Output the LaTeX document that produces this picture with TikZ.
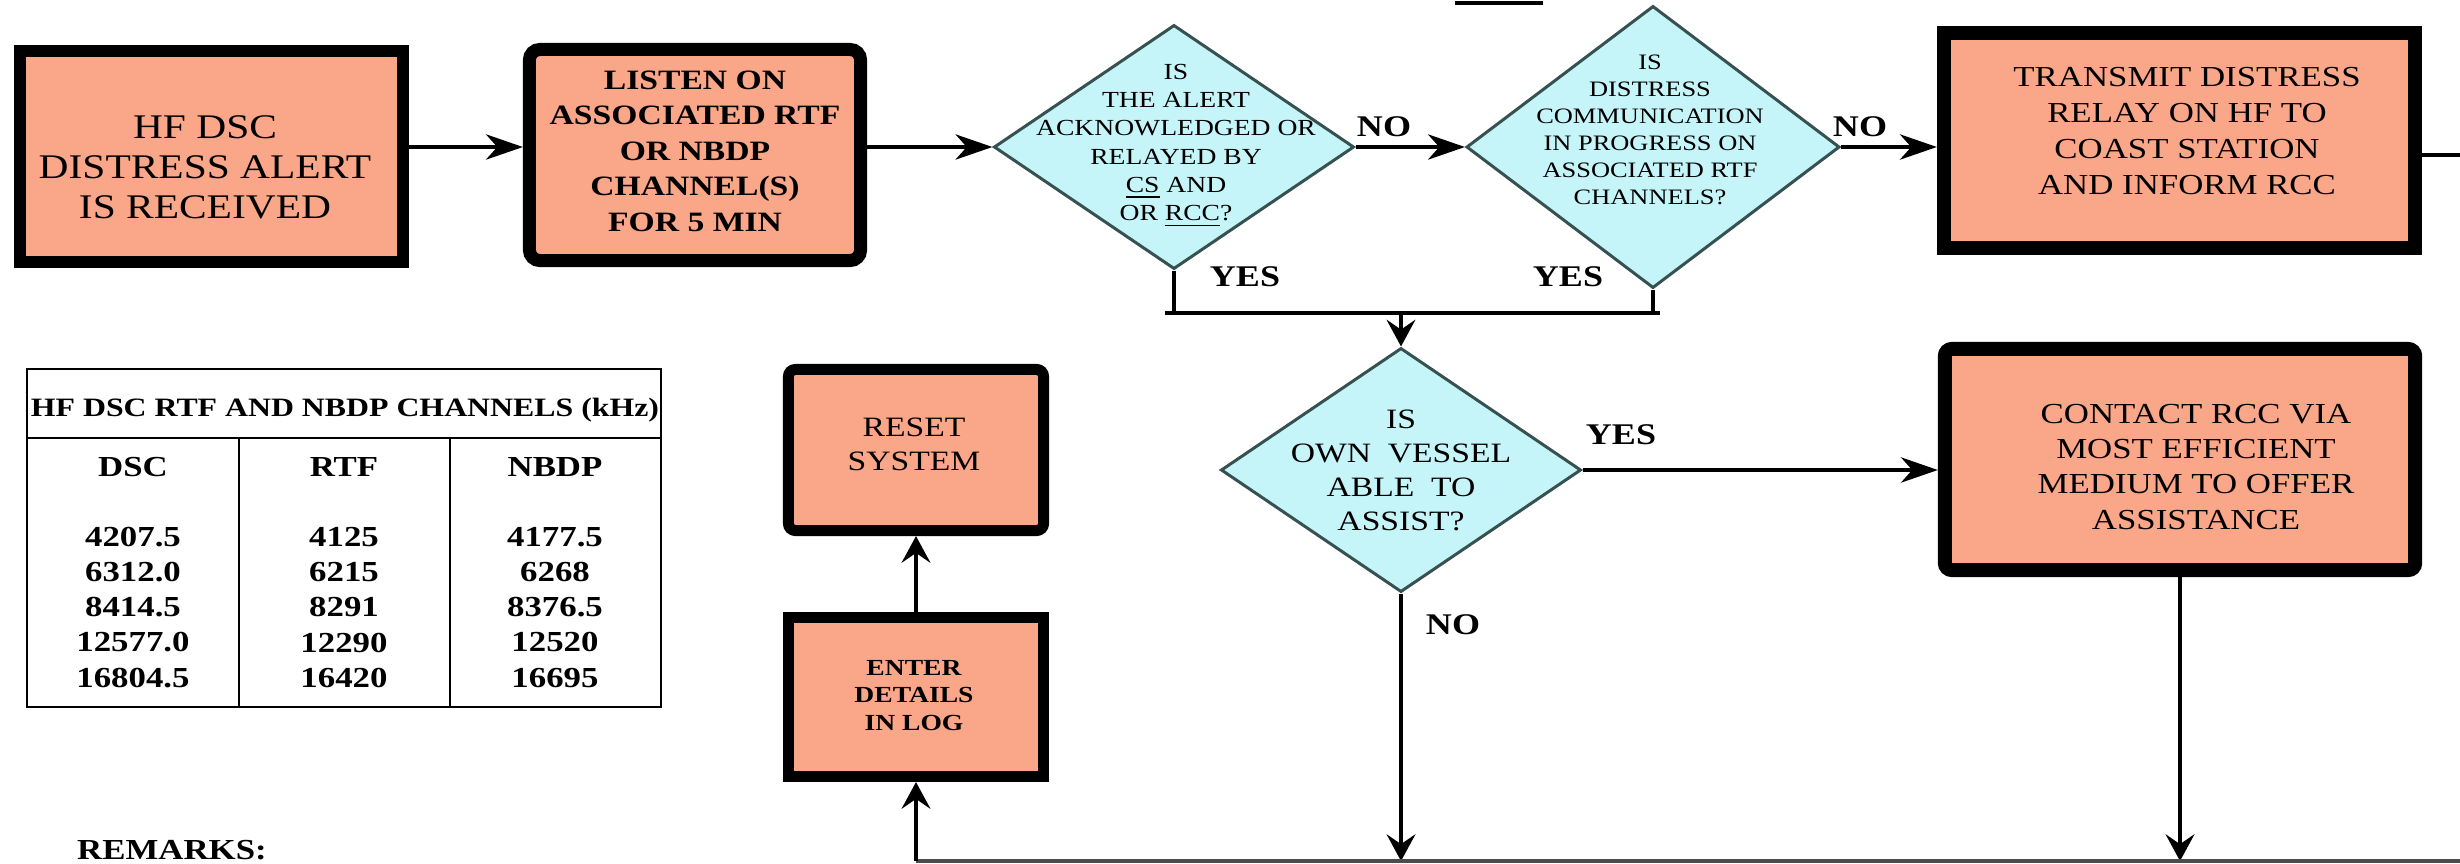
\documentclass[tikz,border=0pt]{standalone}
\usepackage{fontspec}
\setmainfont{Liberation Serif}[FakeStretch=1.2]
\usetikzlibrary{shapes.geometric,arrows.meta}
\definecolor{boxfill}{RGB}{250,166,136}
\definecolor{dfill}{RGB}{198,245,249}
\definecolor{dline}{RGB}{55,80,80}
\newcommand{\fsz}[2]{\fontsize{#1}{#2}\selectfont}
\begin{document}
\begin{tikzpicture}[x=0.01cm,y=-0.01cm,
  proc/.style={draw=black, fill=boxfill, inner sep=0pt},
  dec/.style={diamond, draw=dline, fill=dfill, line width=0.85pt, inner sep=0pt},
  txt/.style={inner sep=0pt, align=center, text=black},
  conn/.style={line width=0.9pt, draw=black},
  harr/.style={conn, -{Stealth[length=10.5pt,width=7.2pt,inset=3.2pt]}},
  varr/.style={conn, -{Stealth[length=7.6pt,width=8.2pt,inset=2.8pt]}},
  lab/.style={inner sep=0pt, font=\bfseries\fsz{8.54pt}{10pt}},
  tcell/.style={inner sep=0pt, align=center, font=\bfseries\fsz{8.25pt}{9.96pt}},
  tline/.style={line width=0.8pt, draw=black}
]
\useasboundingbox (0,0) rectangle (2460,863);
\fill[white] (0,0) rectangle (2460,863);

% fragment of cut-off title underline
\draw[line width=0.9pt] (1455,3) -- (1543,3);

% boxes
\node[proc, line width=0.1cm, minimum width=3.85cm, minimum height=2.13cm] (b1) at (211.5,156.5) {};
\draw[line width=0.03cm] ([shift={(11,11)}]b1.north west) rectangle ([shift={(-11,-11)}]b1.south east);
\node[txt, font=\fsz{9.82pt}{11.38pt}] (t1) at (205,167) {HF DSC\\DISTRESS ALERT\\IS RECEIVED};

\node[proc, line width=0.13cm, minimum width=3.31cm, minimum height=2.11cm, rounded corners=3pt] (b2) at (695,155) {};
\node[txt, font=\bfseries\fsz{7.97pt}{10.1pt}] (t2) at (695,151) {LISTEN ON\\ASSOCIATED RTF\\OR NBDP\\CHANNEL(S)\\FOR 5 MIN};

\node[proc, line width=0.14cm, minimum width=4.71cm, minimum height=2.15cm] (b3) at (2179.5,140.5) {};
\node[txt, font=\fsz{8.25pt}{10.24pt}] (t3) at (2187,131.5) {TRANSMIT DISTRESS\\RELAY ON HF TO\\COAST STATION\\AND INFORM RCC};

\node[proc, line width=0.14cm, minimum width=4.70cm, minimum height=2.21cm, rounded corners=2pt] (b4) at (2180,459.5) {};
\node[txt, font=\fsz{8.25pt}{9.96pt}] (t4) at (2196,467) {CONTACT RCC VIA\\MOST EFFICIENT\\MEDIUM TO OFFER\\ASSISTANCE};

\node[proc, line width=0.11cm, minimum width=2.55cm, minimum height=1.61cm, rounded corners=2pt] (b5) at (916,450) {};
\node[txt, font=\fsz{7.97pt}{9.67pt}] (t5) at (914,444) {RESET\\SYSTEM};

\node[proc, line width=0.11cm, minimum width=2.55cm, minimum height=1.59cm] (b6) at (916,697) {};
\node[txt, font=\bfseries\fsz{6.54pt}{7.82pt}] (t6) at (914,695.5) {ENTER\\DETAILS\\IN LOG};

% decisions
\node[dec, minimum width=3.6cm, minimum height=2.44cm] (d1) at (1174,147) {};
\node[txt, font=\fsz{6.54pt}{7.97pt}] (q1) at (1176,146) {IS\\THE ALERT\\ACKNOWLEDGED OR\\RELAYED BY\\\underline{CS} AND\\OR \underline{RCC}?};
\node[dec, minimum width=3.73cm, minimum height=2.82cm] (d2) at (1653,147) {};
\node[txt, font=\fsz{6.26pt}{7.68pt}] (q2) at (1650,130) {IS\\DISTRESS\\COMMUNICATION\\IN PROGRESS ON\\ASSOCIATED RTF\\CHANNELS?};
\node[dec, minimum width=3.6cm, minimum height=2.44cm] (d3) at (1401,470) {};
\node[txt, font=\fsz{7.97pt}{9.67pt}] (q3) at (1401,470) {IS\\OWN\ \ VESSEL\\ABLE\ \ TO\\ASSIST?};

% helper coordinates
\coordinate (r1) at (0,147);
\coordinate (r3) at (0,155);
\coordinate (edge) at (2460,155);
\coordinate (ym) at (0,313);
\coordinate (ml) at (1165,313);
\coordinate (mr) at (1660,313);
\coordinate (bl) at (916,861);
\coordinate (br) at (2460,861);

% connectors
\draw[harr] (b1.east |- r1) -- (b2.west |- r1);
\draw[harr] (b2.east |- r1) -- (d1.west);
\draw[harr] (d1.east) -- (d2.west);
\draw[harr] (d2.east) -- (b3.west |- d2.east);
\draw[conn] (b3.east |- r3) -- (edge);
\draw[conn] (d1.south) -- (d1.south |- ym);
\draw[conn] (d2.south) -- (d2.south |- ym);
\draw[conn] (ml) -- (mr);
\draw[varr] (d3.north |- ym) -- (d3.north);
\draw[harr] (d3.east) -- (b4.west |- d3.east);
\draw[varr] (d3.south) -- (d3.south |- bl);
\draw[varr] (b4.south) -- (b4.south |- bl);
\draw[conn, draw=black!70] (bl) -- (br);
\draw[varr] (bl) -- (b6.south);
\draw[varr] (b6.north) -- (b5.south);

% labels
\node[lab] (no1) at (1384,127) {NO};
\node[lab] (no2) at (1860,127) {NO};
\node[lab] (yes1) at (1245,277) {YES};
\node[lab] (yes2) at (1568,277) {YES};
\node[lab] (yes3) at (1621,435) {YES};
\node[lab] (no3) at (1453,625) {NO};

% table
\draw[tline] (27,369) rectangle (661,707);
\draw[tline] (27,438) -- (661,438);
\draw[tline] (239,438) -- (239,707);
\draw[tline] (450,438) -- (450,707);
\node[txt, font=\bfseries\fsz{7.54pt}{9pt}] (th) at (345,410) {HF DSC RTF AND NBDP CHANNELS (kHz)};
\node[tcell] (h1) at (133,467) {DSC};
\node[tcell] (h2) at (344,467) {RTF};
\node[tcell] (h3) at (555,467) {NBDP};
\node[tcell] (c1) at (133,607.5) {4207.5\\6312.0\\8414.5\\12577.0\\16804.5};
\node[tcell] (c2) at (344,607.5) {4125\\6215\\8291\\12290\\16420};
\node[tcell] (c3) at (555,607.5) {4177.5\\6268\\8376.5\\12520\\16695};

\node[txt, font=\bfseries\fsz{8.25pt}{10pt}] (rem) at (172,850) {REMARKS:};
\end{tikzpicture}
\end{document}
